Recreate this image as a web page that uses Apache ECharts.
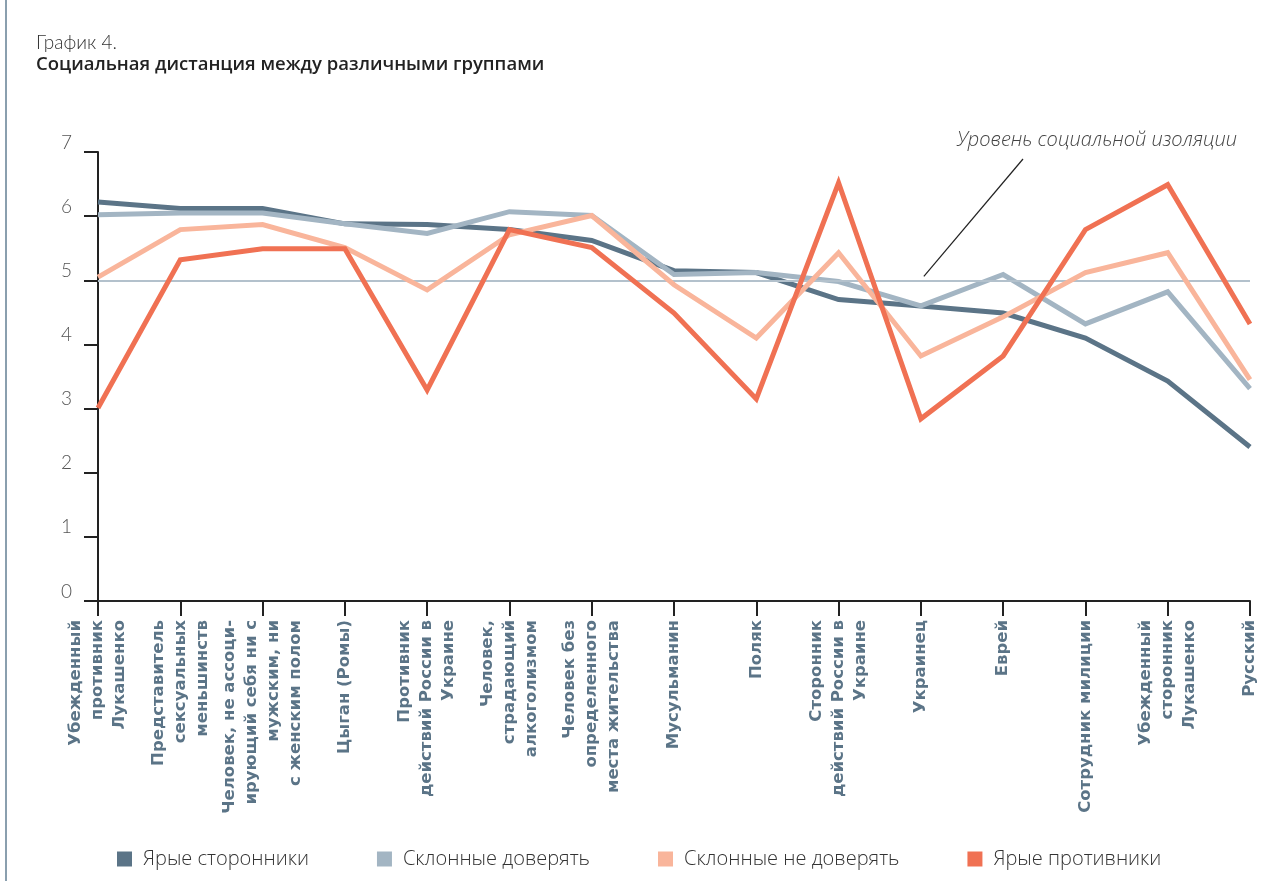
<!DOCTYPE html>
<html>
<head>
<meta charset="utf-8">
<script src="https://cdn.jsdelivr.net/npm/echarts@6/dist/echarts.min.js"></script>
<style>
  html, body { margin: 0; padding: 0; background: #fff; }
  #chart { width: 1279px; height: 881px; }
</style>
</head>
<body>
<div id="chart"></div>
<script>
// categories along the x axis
const categories = [
  'Убежденный\nпротивник\nЛукашенко',
  'Представитель\nсексуальных\nменьшинств',
  'Человек, не ассоци-\nирующий себя ни с\nмужским, ни\nс женским полом',
  'Цыган (Ромы)',
  'Противник\nдействий России в\nУкраине',
  'Человек,\nстрадающий\nалкоголизмом',
  'Человек без\nопределенного\nместа жительства',
  'Мусульманин',
  'Поляк',
  'Сторонник\nдействий России в\nУкраине',
  'Украинец',
  'Еврей',
  'Сотрудник милиции',
  'Убежденный\nсторонник\nЛукашенко',
  'Русский'
];

const seriesNames = ['Ярые сторонники', 'Склонные доверять', 'Склонные не доверять', 'Ярые противники'];

const strongSupporters = [6.22, 6.12, 6.12, 5.88, 5.87, 5.79, 5.62, 5.15, 5.12, 4.70, 4.60, 4.49, 4.10, 3.43, 2.40];
const leanTrust        = [6.02, 6.05, 6.05, 5.88, 5.73, 6.07, 6.01, 5.09, 5.12, 4.98, 4.60, 5.09, 4.32, 4.82, 3.31];
const leanDistrust     = [5.05, 5.79, 5.87, 5.51, 4.85, 5.71, 6.01, 4.93, 4.10, 5.43, 3.82, 4.43, 5.12, 5.43, 3.45];
const strongOpponents  = [3.01, 5.32, 5.49, 5.49, 3.29, 5.79, 5.51, 4.49, 3.15, 6.52, 2.84, 3.82, 5.79, 6.49, 4.32];

const isolationLevel = 5;
const isolationLabel = 'Уровень социальной изоляции';

const colors = ['#5b7487', '#a3b5c3', '#f9b59b', '#f07153'];
const seriesData = [strongSupporters, leanTrust, leanDistrust, strongOpponents];

const chart = echarts.init(document.getElementById('chart'));

const series = seriesData.map((d, i) => ({
  name: seriesNames[i],
  type: 'line',
  data: d,
  symbol: 'none',
  z: 3 + i,
  lineStyle: { width: 5, color: colors[i], join: 'miter' },
  itemStyle: { color: colors[i] }
}));

// reference line for the isolation level
series.push({
  name: 'level',
  type: 'line',
  data: [],
  markLine: {
    silent: true,
    symbol: 'none',
    label: { show: false },
    lineStyle: { color: '#b3c1cc', width: 2, type: 'solid' },
    data: [{ yAxis: isolationLevel }]
  },
  z: 1
});

const option = {
  animation: false,
  backgroundColor: '#fff',
  color: colors,
  title: [
    {
      text: 'График 4.',
      left: 36, top: 33, padding: 0,
      textStyle: { fontFamily: 'Lato', fontWeight: 300, fontSize: 19, color: '#333' }
    },
    {
      text: 'Социальная дистанция между различными группами',
      left: 36, top: 55, padding: 0,
      textStyle: { fontFamily: 'Open Sans', fontWeight: 600, fontSize: 18.5, color: '#222' }
    }
  ],
  grid: { left: 98, right: 29, top: 152, bottom: 280 },
  legend: {
    data: seriesNames,
    left: 117, top: 849, padding: 0,
    itemWidth: 15, itemHeight: 15,
    itemGap: 68,
    icon: 'rect',
    textStyle: { fontFamily: 'Open Sans', fontWeight: 300, fontSize: 20, color: '#333', padding: [0, 0, 0, 6] }
  },
  xAxis: {
    type: 'category',
    data: categories,
    boundaryGap: false,
    axisLine: { lineStyle: { color: '#222', width: 2 } },
    axisTick: { show: true, length: 15, lineStyle: { color: '#222', width: 2 }, alignWithLabel: true },
    axisLabel: {
      interval: 0,
      rotate: 90,
      margin: 19,
      hideOverlap: false,
      fontFamily: 'DejaVu Sans',
      fontWeight: 'bold',
      fontSize: 16.5,
      lineHeight: 22,
      color: '#5b7487'
    },
    splitLine: { show: false }
  },
  yAxis: {
    type: 'value',
    min: 0, max: 7, interval: 1,
    axisLine: { show: true, lineStyle: { color: '#222', width: 2 } },
    axisTick: { show: true, inside: false, length: 14, lineStyle: { color: '#222', width: 2 } },
    axisLabel: {
      margin: 26,
      fontFamily: 'Lato', fontWeight: 300, fontSize: 19, color: '#555',
      verticalAlign: 'bottom'
    },
    splitLine: { show: false }
  },
  series: series
};

chart.setOption(option);

// annotation for the isolation level
const target = chart.convertToPixel({ gridIndex: 0 }, [10, isolationLevel]);
chart.setOption({
  graphic: [
    {
      type: 'rect',
      shape: { x: 5, y: 0, width: 2, height: 881 },
      style: { fill: '#8a9fae' }
    },
    {
      type: 'text',
      style: {
        text: isolationLabel,
        x: 1237, y: 140,
        align: 'right', verticalAlign: 'middle',
        font: 'italic 300 20px "Open Sans"',
        fill: '#444'
      }
    },
    {
      type: 'line',
      shape: { x1: 1023, y1: 159, x2: target[0] + 3, y2: target[1] - 4 },
      style: { stroke: '#222', lineWidth: 1.2 }
    }
  ]
});
</script>
</body>
</html>
